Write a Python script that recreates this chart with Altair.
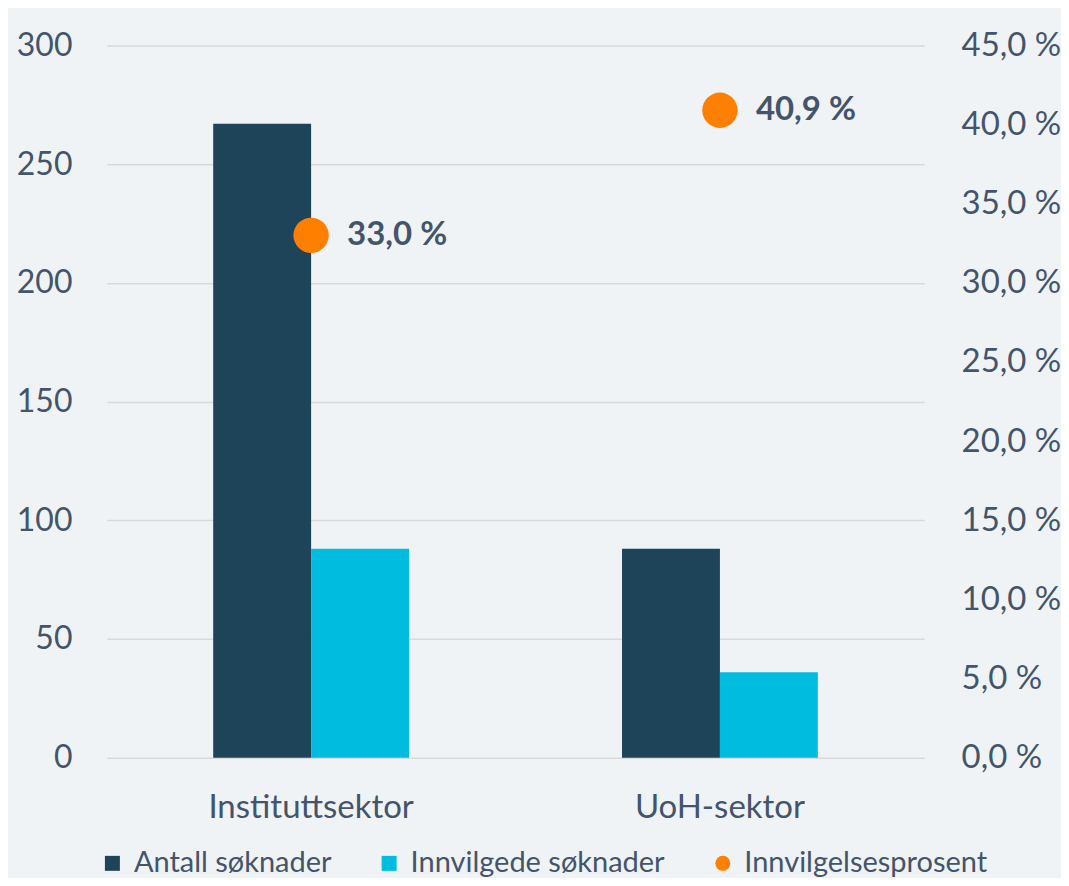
import altair as alt
import pandas as pd

categories = ["Instituttsektor", "UoH-sektor"]
series_names = ["Antall søknader", "Innvilgede søknader", "Innvilgelsesprosent"]
antall = [267, 88]
innvilgede = [88, 36]
prosent = [33.0, 40.9]

bars = pd.DataFrame({
    "kategori": categories * 2,
    "serie": [series_names[0]] * 2 + [series_names[1]] * 2,
    "verdi": antall + innvilgede,
})
pts = pd.DataFrame({
    "kategori": categories,
    "serie": [series_names[2]] * 2,
    "prosent": prosent,
    "tekst": [f"{v:.1f}".replace(".", ",") + " %" for v in prosent],
})

FONT = "Lato"
TXT = "#44546A"
colors = ["#1D4459", "#00BDE0", "#FF7F00"]

xenc = alt.X("kategori:N", sort=categories, title=None,
             scale=alt.Scale(paddingInner=0.521, paddingOuter=0.26),
             axis=alt.Axis(labelAngle=0, labelFontSize=33, labelColor=TXT, labelFont=FONT,
                           ticks=False, domain=False, labelPadding=34, labelLimit=500))

color_scale = alt.Scale(domain=series_names, range=colors)
shape_scale = alt.Scale(domain=series_names, range=["square", "square", "circle"])

bar_layer = alt.Chart(bars).mark_bar().encode(
    x=xenc,
    xOffset=alt.XOffset("serie:N", sort=series_names[:2], scale=alt.Scale(paddingInner=0, paddingOuter=0)),
    y=alt.Y("verdi:Q", title=None,
            scale=alt.Scale(domain=[0, 300], nice=False),
            axis=alt.Axis(values=[0, 50, 100, 150, 200, 250, 300], labelFontSize=32, labelColor=TXT,
                          labelFont=FONT, ticks=False, domain=False, labelPadding=35,
                          gridColor="#D9D9D9", gridWidth=1.5)),
    color=alt.Color("serie:N", scale=color_scale, title=None,
                    legend=alt.Legend(orient="none", direction="horizontal", legendX=-9, legendY=804,
                                      labelFontSize=29, labelColor=TXT, labelFont=FONT, symbolSize=225,
                                      columnPadding=43, labelLimit=500, labelOffset=7,
                                      symbolStrokeWidth=0)),
    shape=alt.Shape("serie:N", scale=shape_scale, title=None),
)

right_axis = alt.Axis(orient="right", values=[0, 5, 10, 15, 20, 25, 30, 35, 40, 45],
                      labelExpr="replace(format(datum.value, '.1f'), '.', ',') + ' %'",
                      labelFontSize=33, labelColor=TXT, labelFont=FONT, ticks=False, domain=False,
                      grid=False, labelPadding=37)

yp = alt.Y("prosent:Q", title=None, scale=alt.Scale(domain=[0, 45], nice=False), axis=right_axis)

point_layer = alt.Chart(pts).mark_point(filled=True, opacity=1, size=1250).encode(
    x=alt.X("kategori:N", sort=categories),
    y=yp,
    color=alt.Color("serie:N", scale=color_scale, title=None),
    shape=alt.Shape("serie:N", scale=shape_scale, title=None),
)

text_layer = alt.Chart(pts).mark_text(align="left", baseline="middle", dx=36, fontSize=33,
                                      fontWeight="bold", font=FONT, color=TXT).encode(
    x=alt.X("kategori:N", sort=categories),
    y=yp,
    text="tekst:N",
)

right = alt.layer(point_layer, text_layer)

chart = alt.layer(bar_layer, right).resolve_scale(y="independent").properties(
    width=818, height=713,
    background="#EFF3F5",
    autosize=alt.AutoSizeParams(type="none"),
    padding={"left": 99, "top": 37, "right": 137, "bottom": 120},
).configure_view(stroke=None)

chart.save("out.html", embed_options={"renderer": "svg", "actions": False})
